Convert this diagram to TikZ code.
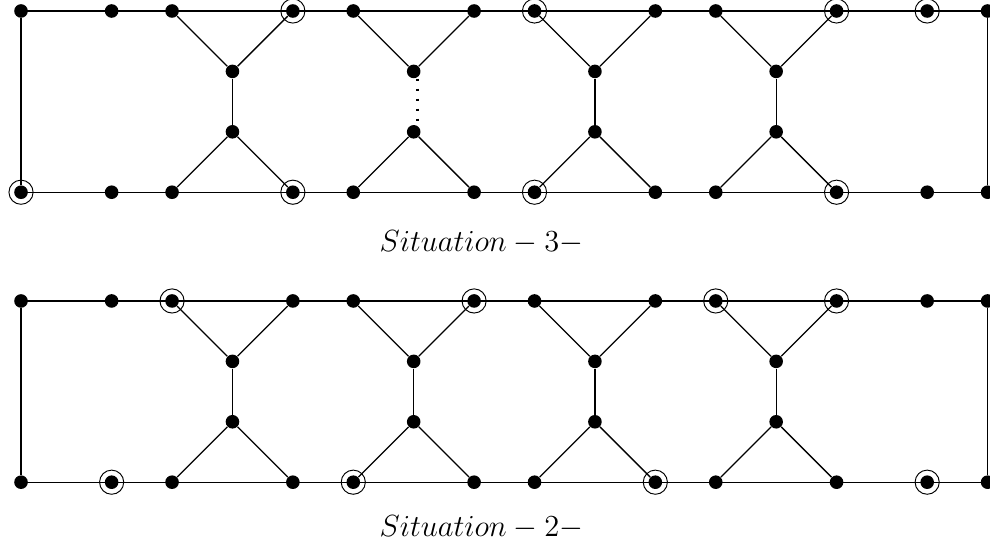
\documentclass[tikz,border=0pt]{standalone}
\begin{document}
\begin{tikzpicture}[
  vtx/.style={circle,fill=black,inner sep=0pt,minimum size=0.225cm},
  ring/.style={circle,draw,inner sep=0pt,minimum size=0.4cm,line width=0.45pt},
  edge/.style={line width=0.6pt},
  dotline/.style={line width=1.2pt,dash pattern=on 1pt off 3.7pt},
  captext/.style={font=\Large,anchor=base}
]
\useasboundingbox (-0.348,0.182) rectangle (16.04,-8.924);
\foreach \p/\dy in {A/0,B/-4.80}{
  \begin{scope}[yshift=\dy cm]
  \foreach \x [count=\i] in {0,1.5,2.5,4.5,5.5,7.5,8.5,10.5,11.5,13.5,15,16}{
    \node[vtx] (\p-t\i) at (\x,0) {};
    \node[vtx] (\p-b\i) at (\x,-3) {};
  }
  \foreach \x [count=\i] in {3.5,6.5,9.5,12.5}{
    \node[vtx] (\p-m\i) at (\x,-1) {};
    \node[vtx] (\p-n\i) at (\x,-2) {};
  }
  \draw[edge] (\p-t1.center) -- (\p-t12.center);
  \draw[edge] (\p-b1.center) -- (\p-b12.center);
  \draw[edge] (\p-t1) -- (\p-b1);
  \draw[edge] (\p-t12) -- (\p-b12);
  \foreach \k in {1,2,3,4}{
    \pgfmathtruncatemacro{\l}{2*\k+1}
    \pgfmathtruncatemacro{\r}{2*\k+2}
    \draw[edge] (\p-t\l) -- (\p-m\k) -- (\p-t\r);
    \draw[edge] (\p-b\l) -- (\p-n\k) -- (\p-b\r);
  }
  \end{scope}
}
% vertical middle edges
\draw[edge] (A-m1) -- (A-n1);
\draw[dotline] ([xshift=0.066cm]A-m2.south) -- ([xshift=0.066cm]A-n2.north);
\draw[edge] (A-m3) -- (A-n3);
\draw[edge] (A-m4) -- (A-n4);
\foreach \k in {1,2,3,4}{ \draw[edge] (B-m\k) -- (B-n\k); }
% marked vertices, situation 3
\foreach \v in {A-t4,A-t7,A-t10,A-t11,A-b1,A-b4,A-b7,A-b10}{
  \node[ring] (r-\v) at (\v) {};
}
% marked vertices, situation 2
\foreach \v in {B-t3,B-t6,B-t9,B-t10,B-b2,B-b5,B-b8,B-b11}{
  \node[ring] (r-\v) at (\v) {};
}
\node[captext] (capA) at (7.62,-3.985) {$Situation-3-$};
\node[captext] (capB) at (7.62,-8.70) {$Situation-2-$};
\end{tikzpicture}
\end{document}
